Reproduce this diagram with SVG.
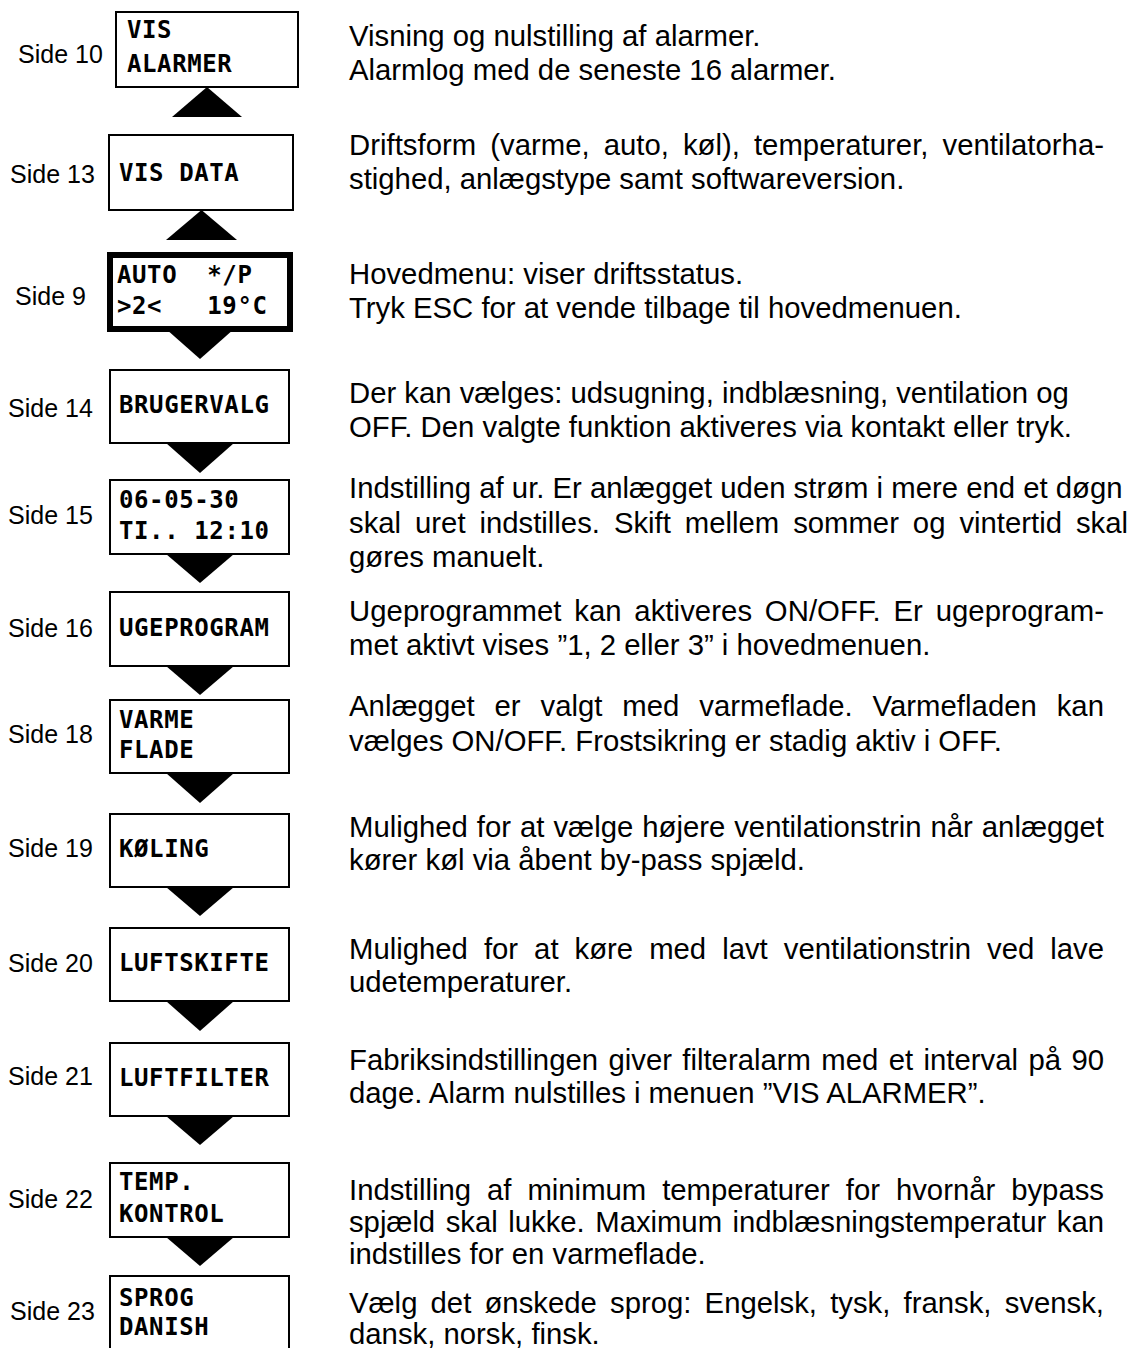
<svg xmlns="http://www.w3.org/2000/svg" width="1130" height="1348" viewBox="0 0 1130 1348">
<style>
.bg{fill:#fff}
.box{fill:#fff;stroke:#000;stroke-width:2}
.boxb{fill:#fff;stroke:#000;stroke-width:6}
.tri{fill:#000}
.lcd{font-family:"DejaVu Sans Mono","Liberation Mono",monospace;font-weight:bold;font-size:24px;letter-spacing:0.6px;fill:#000}
.side{font-family:"Liberation Sans",Arial,sans-serif;font-size:25px;fill:#000}
.desc{font-family:"Liberation Sans",Arial,sans-serif;font-size:29.3px;fill:#000}
</style>
<rect class="bg" x="0" y="0" width="1130" height="1348"/>

<g id="n-side10">
<rect class="box" x="116" y="12" width="182" height="75"/>
<text class="lcd" x="127" y="38">VIS</text>
<text class="lcd" x="127" y="72">ALARMER</text>
<text class="side" x="18" y="63">Side 10</text>
<text class="desc" x="349" y="46">Visning og nulstilling af alarmer.</text>
<text class="desc" x="349" y="80">Alarmlog med de seneste 16 alarmer.</text>
</g>

<g id="n-side13">
<rect class="box" x="109" y="135" width="184" height="75"/>
<text class="lcd" x="119" y="181">VIS DATA</text>
<text class="side" x="10" y="183">Side 13</text>
<text class="desc" x="349" y="155" style="word-spacing:5.8px" textLength="755" lengthAdjust="spacing">Driftsform (varme, auto, køl), temperaturer, ventilatorha-</text>
<text class="desc" x="349" y="189">stighed, anlægstype samt softwareversion.</text>
</g>

<g id="n-side9">
<rect class="boxb" x="110" y="255" width="180" height="74"/>
<text class="lcd" y="283"><tspan x="117">AUTO</tspan><tspan x="207.3">*/P</tspan></text>
<text class="lcd" y="314"><tspan x="117">&gt;2&lt;</tspan><tspan x="207.3">19°C</tspan></text>
<text class="side" x="15" y="305">Side 9</text>
<text class="desc" x="349" y="284">Hovedmenu: viser driftsstatus.</text>
<text class="desc" x="349" y="318">Tryk ESC for at vende tilbage til hovedmenuen.</text>
</g>

<g id="n-side14">
<rect class="box" x="110" y="370" width="179" height="73"/>
<text class="lcd" x="119" y="413">BRUGERVALG</text>
<text class="side" x="8" y="417">Side 14</text>
<text class="desc" x="349" y="403">Der kan vælges: udsugning, indblæsning, ventilation og</text>
<text class="desc" x="349" y="437">OFF. Den valgte funktion aktiveres via kontakt eller tryk.</text>
</g>

<g id="n-side15">
<rect class="box" x="110" y="480" width="179" height="74"/>
<text class="lcd" x="119" y="508">06-05-30</text>
<text class="lcd" y="539"><tspan x="119">TI..</tspan><tspan x="194.3">12:10</tspan></text>
<text class="side" x="8" y="524">Side 15</text>
<text class="desc" x="349" y="498">Indstilling af ur. Er anlægget uden strøm i mere end et døgn</text>
<text class="desc" x="349" y="533" style="word-spacing:5.8px" textLength="779" lengthAdjust="spacing">skal uret indstilles. Skift mellem sommer og vintertid skal</text>
<text class="desc" x="349" y="567">gøres manuelt.</text>
</g>

<g id="n-side16">
<rect class="box" x="110" y="592" width="179" height="74"/>
<text class="lcd" x="119" y="636">UGEPROGRAM</text>
<text class="side" x="8" y="637">Side 16</text>
<text class="desc" x="349" y="621" style="word-spacing:4.5px" textLength="755" lengthAdjust="spacing">Ugeprogrammet kan aktiveres ON/OFF. Er ugeprogram-</text>
<text class="desc" x="349" y="655">met aktivt vises  ”1, 2 eller 3” i hovedmenuen.</text>
</g>

<g id="n-side18">
<rect class="box" x="110" y="700" width="179" height="73"/>
<text class="lcd" x="119" y="728">VARME</text>
<text class="lcd" x="119" y="758">FLADE</text>
<text class="side" x="8" y="743">Side 18</text>
<text class="desc" x="349" y="716" style="word-spacing:11.6px" textLength="755" lengthAdjust="spacing">Anlægget er valgt med varmeflade. Varmefladen kan</text>
<text class="desc" x="349" y="751">vælges ON/OFF. Frostsikring er stadig aktiv i OFF.</text>
</g>

<g id="n-side19">
<rect class="box" x="110" y="814" width="179" height="73"/>
<text class="lcd" x="119" y="857">KØLING</text>
<text class="side" x="8" y="857">Side 19</text>
<text class="desc" x="349" y="837" style="word-spacing:0.8px" textLength="755" lengthAdjust="spacing">Mulighed for at vælge højere ventilationstrin når anlægget</text>
<text class="desc" x="349" y="870">kører køl via åbent by-pass spjæld.</text>
</g>

<g id="n-side20">
<rect class="box" x="110" y="928" width="179" height="73"/>
<text class="lcd" x="119" y="971">LUFTSKIFTE</text>
<text class="side" x="8" y="972">Side 20</text>
<text class="desc" x="349" y="959" style="word-spacing:7.9px" textLength="755" lengthAdjust="spacing">Mulighed for at køre med lavt ventilationstrin ved lave</text>
<text class="desc" x="349" y="992">udetemperaturer.</text>
</g>

<g id="n-side21">
<rect class="box" x="110" y="1043" width="179" height="73"/>
<text class="lcd" x="119" y="1086">LUFTFILTER</text>
<text class="side" x="8" y="1085">Side 21</text>
<text class="desc" x="349" y="1070" style="word-spacing:2.3px" textLength="755" lengthAdjust="spacing">Fabriksindstillingen giver filteralarm med et interval på 90</text>
<text class="desc" x="349" y="1103">dage. Alarm nulstilles i menuen ”VIS ALARMER”.</text>
</g>

<g id="n-side22">
<rect class="box" x="110" y="1163" width="179" height="74"/>
<text class="lcd" x="119" y="1190">TEMP.</text>
<text class="lcd" x="119" y="1222">KONTROL</text>
<text class="side" x="8" y="1208">Side 22</text>
<text class="desc" x="349" y="1200" style="word-spacing:7.8px" textLength="755" lengthAdjust="spacing">Indstilling af minimum temperaturer for hvornår bypass</text>
<text class="desc" x="349" y="1232" style="word-spacing:2.5px" textLength="755" lengthAdjust="spacing">spjæld skal lukke. Maximum indblæsningstemperatur kan</text>
<text class="desc" x="349" y="1264">indstilles for en varmeflade.</text>
</g>

<g id="n-side23">
<rect class="box" x="110" y="1276" width="179" height="90"/>
<text class="lcd" x="119" y="1306">SPROG</text>
<text class="lcd" x="119" y="1335">DANISH</text>
<text class="side" x="10" y="1320">Side 23</text>
<text class="desc" x="349" y="1313" style="word-spacing:5px" textLength="755" lengthAdjust="spacing">Vælg det ønskede sprog: Engelsk, tysk, fransk, svensk,</text>
<text class="desc" x="349" y="1344">dansk, norsk, finsk.</text>
</g>

<g id="connectors">
<polygon class="tri" points="172,117 242,117 207,87"/>
<polygon class="tri" points="166,240 237,240 201.5,210"/>
<polygon class="tri" points="166,329 234,329 200,359"/>
<polygon class="tri" points="166,443 234,443 200,473"/>
<polygon class="tri" points="166,554 234,554 200,583"/>
<polygon class="tri" points="166,666 234,666 200,695"/>
<polygon class="tri" points="166,773 234,773 200,803"/>
<polygon class="tri" points="166,887 234,887 200,916"/>
<polygon class="tri" points="166,1001 234,1001 200,1031"/>
<polygon class="tri" points="166,1116 234,1116 200,1145"/>
<polygon class="tri" points="166,1237 234,1237 200,1266"/>
</g>
</svg>
